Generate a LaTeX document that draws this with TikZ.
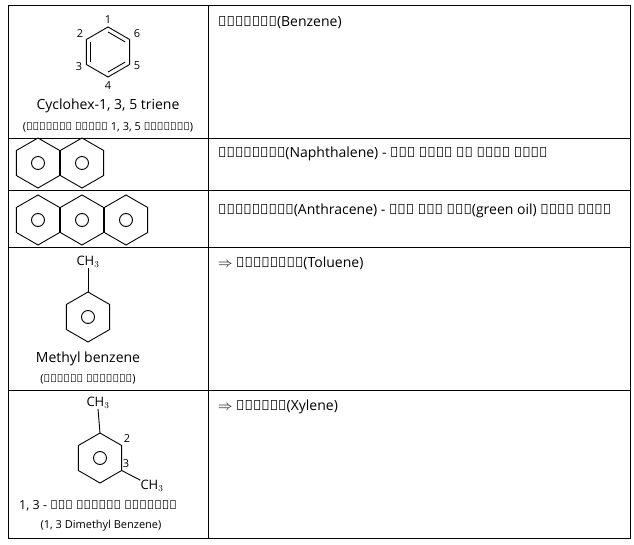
\documentclass[tikz,border=0pt]{standalone}
\usepackage{fontspec}
\setmainfont{Open Sans}
\begin{document}
\begin{tikzpicture}[x=1pt,y=-1pt,
  grid/.style={line width=0.8pt},
  bond/.style={line width=0.9pt},
  txt/.style={font=\fontsize{14}{16}\selectfont,inner sep=0pt},
  sml/.style={font=\fontsize{11}{13}\selectfont,inner sep=0pt},
  ring/.style={bond,circle,minimum size=13pt,draw,inner sep=0pt}]
\useasboundingbox (0,0) rectangle (634,545);
% table
\draw[grid] (8,5) rectangle (630,538);
\draw[grid] (208,5) -- (208,538);
\foreach \y in {138,190,247,390} \draw[grid] (8,\y) -- (630,\y);
% benzene
\def\hex#1#2{\draw[bond] (#1+0,#2-25) -- (#1+21.65,#2-12.5) -- (#1+21.65,#2+12.5) -- (#1+0,#2+25) -- (#1-21.65,#2+12.5) -- (#1-21.65,#2-12.5) -- cycle;}
\hex{108}{52}
\draw[bond] (108,-20+52) -- (108+17.3,52-10);
\draw[bond] (108+17.3,52+10) -- (108,52+20);
\draw[bond] (108-17.3,52+10) -- (108-17.3,52-10);
\node[sml] (n1) at (108,20) {1};
\node[sml] (n2) at (80,34) {2};
\node[sml] (n6) at (137,34) {6};
\node[sml] (n3) at (79,67) {3};
\node[sml] (n5) at (137,66) {5};
\node[sml] (n4) at (108,86) {4};
\node[txt] (t1) at (108,106) {Cyclohex-1, 3, 5 triene};
\node[sml] (t1b) at (108,127) {(साइक्लो हेक्स 1, 3, 5 ट्राईइन)};
\node[txt,anchor=base west] (r1) at (218,27) {बेन्जीन(Benzene)};
% naphthalene
\hex{38}{163}\hex{82}{163}
\node[ring] (c1) at (38,163) {};
\node[ring] (c2) at (82,163) {};
\node[txt,anchor=base west] (r2) at (218,158) {नेफ्थलीन(Naphthalene) - इसे कपूर भी कहते हैं।};
% anthracene
\hex{38}{220}\hex{82}{220}\hex{126}{220}
\node[ring] (c3) at (38,220) {};
\node[ring] (c4) at (82,220) {};
\node[ring] (c5) at (126,220) {};
\node[txt,anchor=base west] (r3) at (218,215) {ऐन्थरासीन(Anthracene) - इसे हरा तेल(green oil) कहते हैं।};
% toluene
\hex{88}{317}
\node[ring] (c6) at (88,317) {};
\node[sml,font=\fontsize{13}{15}\selectfont] (ch1) at (88,262) {CH$_3$};
\coordinate (tv) at (88,292);
\draw[bond] (ch1.south) -- (tv);
\node[txt] (t4) at (88,359) {Methyl benzene};
\node[sml] (t4b) at (88,379) {(मेंथिल बेन्जीन)};
\node[txt,anchor=base west] (r4) at (218,268) {$\Rightarrow$ टाल्यूईन(Toluene)};
% xylene
\hex{100}{458}
\node[ring] (c7) at (100,458) {};
\node[sml,font=\fontsize{13}{15}\selectfont] (ch2) at (98,403) {CH$_3$};
\coordinate (xv) at (100,433);
\draw[bond] (ch2.south) -- (xv);
\node[sml,font=\fontsize{13}{15}\selectfont] (ch3) at (152,486) {CH$_3$};
\coordinate (xv3) at (121.65,470.5);
\draw[bond] (xv3) -- (ch3.north west);
\node[sml] (x2) at (127,439) {2};
\node[sml] (x3) at (126,464) {3};
\node[sml,font=\fontsize{12.5}{14}\selectfont] (t5) at (98,506) {1, 3 - डाई मेंथील बेन्जीन};
\node[sml] (t5b) at (101,526) {(1, 3 Dimethyl Benzene)};
\node[txt,anchor=base west] (r5) at (218,410) {$\Rightarrow$ जाइलिन(Xylene)};
\end{tikzpicture}
\end{document}
